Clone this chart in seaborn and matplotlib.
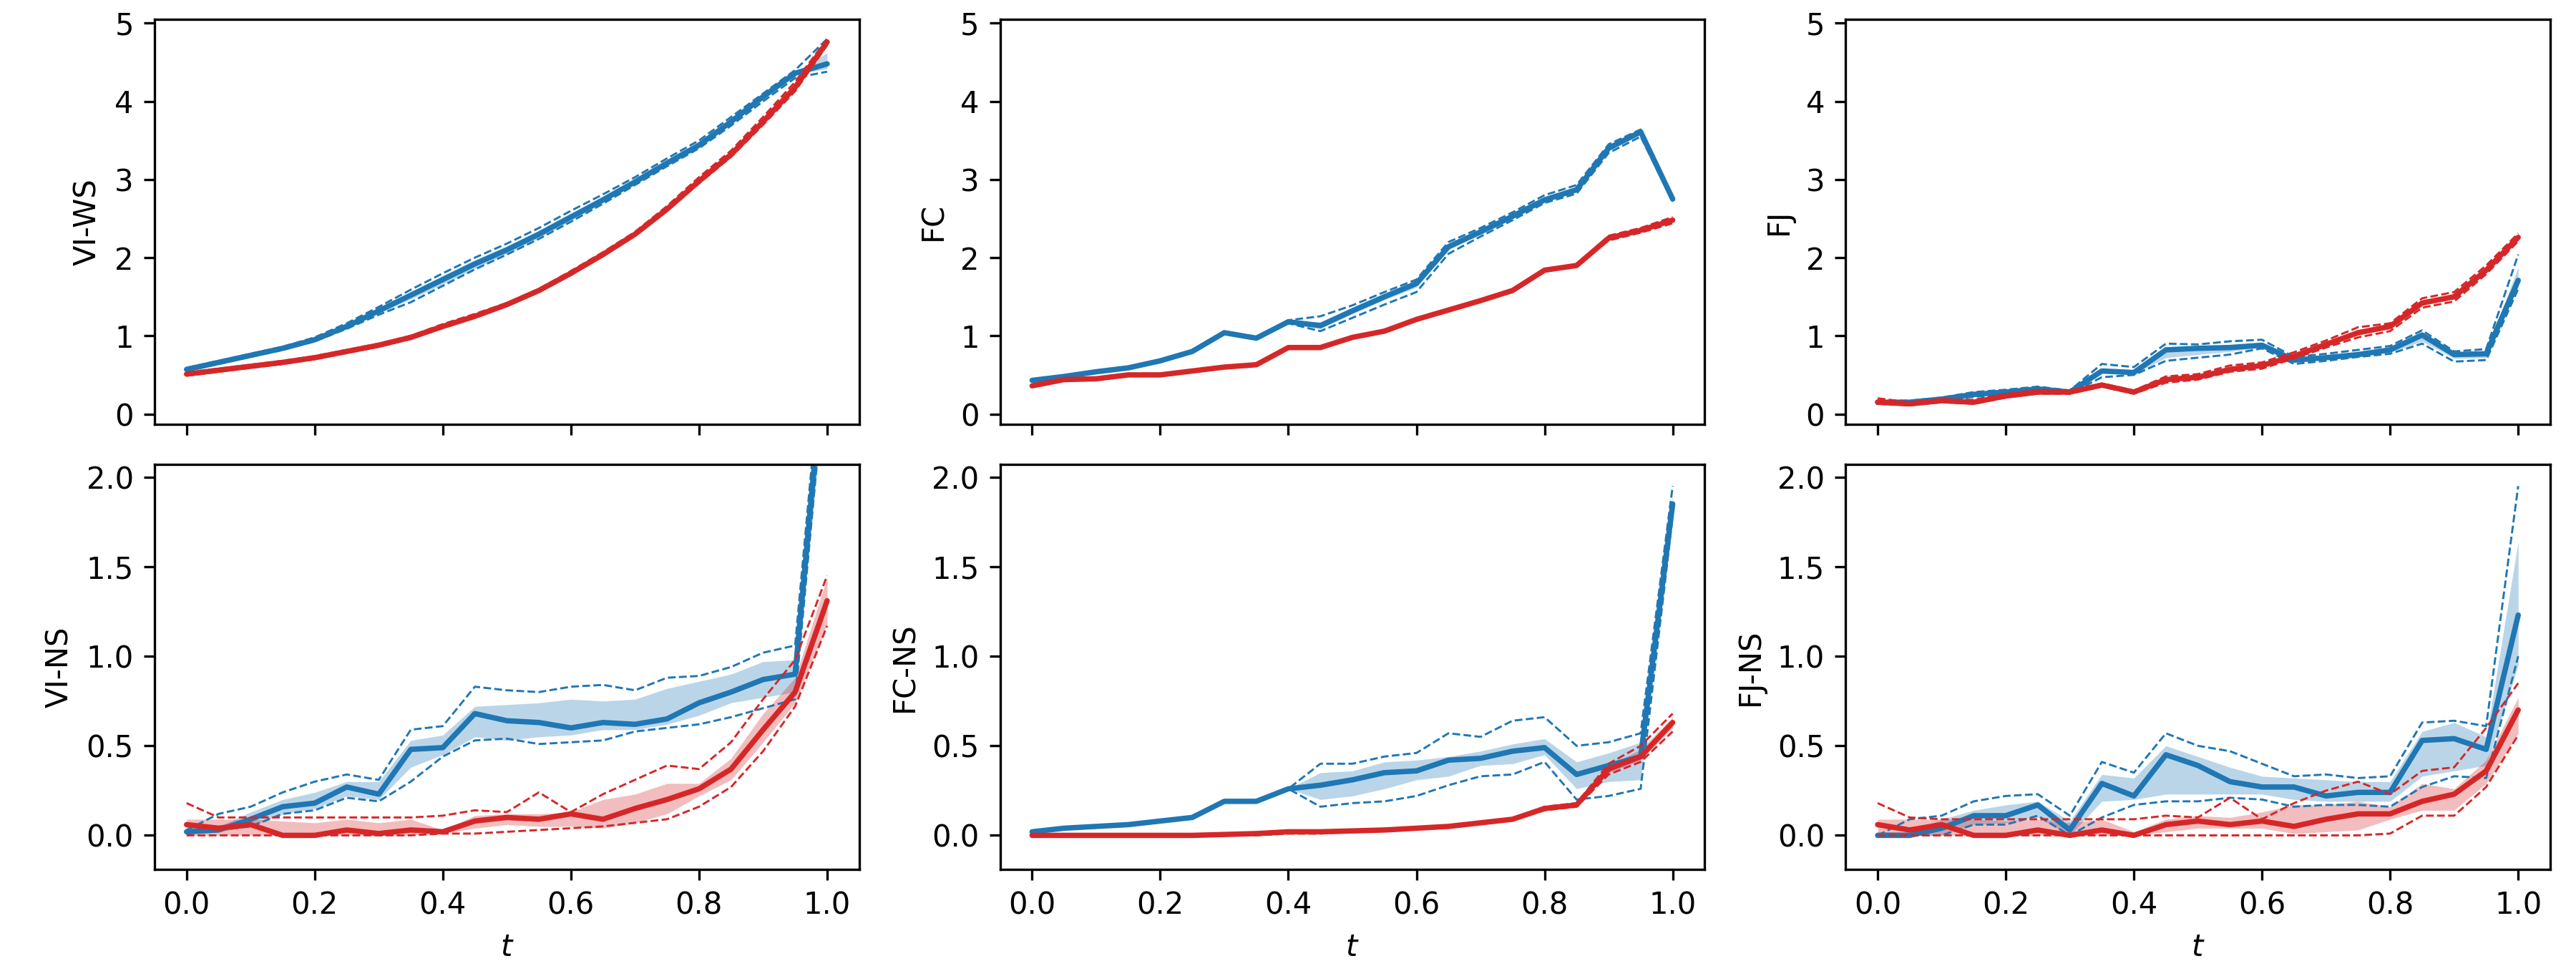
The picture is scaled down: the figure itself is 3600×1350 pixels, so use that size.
import numpy as np
import pandas as pd
import matplotlib
matplotlib.use("Agg")
import matplotlib.pyplot as plt
import seaborn as sns

# time grid
t = [0.0, 0.05, 0.1, 0.15, 0.2, 0.25, 0.3, 0.35, 0.4, 0.45, 0.5,
     0.55, 0.6, 0.65, 0.7, 0.75, 0.8, 0.85, 0.9, 0.95, 1.0]

# ---- VI-WS ----
viws_b_mean = [0.57, 0.66, 0.75, 0.84, 0.95, 1.12, 1.32, 1.52, 1.72, 1.92, 2.10, 2.30, 2.52, 2.74, 2.97, 3.21, 3.44, 3.74, 4.06, 4.36, 4.48]
viws_b_lo = [0.56, 0.65, 0.74, 0.83, 0.94, 1.10, 1.29, 1.47, 1.66, 1.86, 2.05, 2.25, 2.47, 2.70, 2.94, 3.18, 3.42, 3.72, 4.04, 4.34, 4.42]
viws_b_hi = [0.58, 0.67, 0.76, 0.85, 0.96, 1.14, 1.35, 1.56, 1.77, 1.97, 2.15, 2.35, 2.57, 2.78, 3.00, 3.24, 3.46, 3.76, 4.08, 4.38, 4.62]
viws_b_dlo = [0.55, 0.64, 0.73, 0.82, 0.93, 1.09, 1.27, 1.43, 1.64, 1.85, 2.04, 2.24, 2.46, 2.69, 2.93, 3.17, 3.40, 3.69, 4.00, 4.30, 4.38]
viws_b_dhi = [0.59, 0.68, 0.77, 0.86, 0.98, 1.16, 1.37, 1.59, 1.80, 2.00, 2.18, 2.38, 2.60, 2.81, 3.03, 3.27, 3.50, 3.80, 4.10, 4.40, 4.80]
viws_r_mean = [0.51, 0.56, 0.61, 0.66, 0.72, 0.80, 0.88, 0.98, 1.12, 1.25, 1.40, 1.58, 1.80, 2.04, 2.30, 2.62, 2.98, 3.32, 3.74, 4.18, 4.76]
viws_r_lo = [0.50, 0.55, 0.60, 0.65, 0.71, 0.79, 0.87, 0.97, 1.11, 1.24, 1.39, 1.57, 1.79, 2.03, 2.29, 2.61, 2.96, 3.30, 3.72, 4.15, 4.72]
viws_r_hi = [0.52, 0.57, 0.62, 0.67, 0.73, 0.81, 0.89, 0.99, 1.13, 1.26, 1.41, 1.59, 1.81, 2.05, 2.31, 2.63, 3.00, 3.34, 3.76, 4.21, 4.79]
viws_r_dlo = [0.49, 0.54, 0.59, 0.64, 0.70, 0.78, 0.86, 0.96, 1.10, 1.23, 1.38, 1.56, 1.78, 2.02, 2.28, 2.60, 2.95, 3.29, 3.70, 4.13, 4.72]
viws_r_dhi = [0.53, 0.58, 0.63, 0.68, 0.74, 0.82, 0.90, 1.00, 1.15, 1.28, 1.42, 1.60, 1.83, 2.07, 2.33, 2.66, 3.03, 3.37, 3.80, 4.25, 4.80]

# ---- FC ----
fc_b_mean = [0.43, 0.48, 0.54, 0.59, 0.68, 0.80, 1.04, 0.97, 1.18, 1.13, 1.32, 1.50, 1.67, 2.14, 2.33, 2.53, 2.74, 2.87, 3.40, 3.61, 2.75]
fc_b_lo = [0.43, 0.48, 0.54, 0.59, 0.68, 0.80, 1.04, 0.97, 1.17, 1.09, 1.28, 1.46, 1.62, 2.10, 2.30, 2.50, 2.71, 2.84, 3.37, 3.58, 2.73]
fc_b_hi = [0.43, 0.48, 0.54, 0.59, 0.68, 0.80, 1.04, 0.97, 1.19, 1.18, 1.36, 1.54, 1.70, 2.17, 2.36, 2.56, 2.77, 2.90, 3.43, 3.63, 2.77]
fc_b_dlo = [0.43, 0.48, 0.54, 0.59, 0.68, 0.80, 1.04, 0.97, 1.16, 1.06, 1.23, 1.40, 1.56, 2.05, 2.27, 2.48, 2.70, 2.82, 3.34, 3.55, 2.72]
fc_b_dhi = [0.43, 0.48, 0.54, 0.59, 0.68, 0.80, 1.04, 0.97, 1.20, 1.25, 1.39, 1.56, 1.72, 2.20, 2.38, 2.58, 2.80, 2.93, 3.45, 3.64, 2.78]
fc_r_mean = [0.36, 0.44, 0.45, 0.50, 0.50, 0.55, 0.60, 0.63, 0.85, 0.85, 0.98, 1.06, 1.21, 1.33, 1.45, 1.58, 1.84, 1.90, 2.25, 2.35, 2.48]
fc_r_lo = [0.36, 0.44, 0.45, 0.50, 0.50, 0.55, 0.60, 0.63, 0.85, 0.85, 0.98, 1.06, 1.21, 1.33, 1.45, 1.58, 1.84, 1.90, 2.23, 2.33, 2.45]
fc_r_hi = [0.36, 0.44, 0.45, 0.50, 0.50, 0.55, 0.60, 0.63, 0.85, 0.85, 0.98, 1.06, 1.21, 1.33, 1.45, 1.58, 1.84, 1.90, 2.27, 2.37, 2.51]
fc_r_dlo = [0.36, 0.44, 0.45, 0.50, 0.50, 0.55, 0.60, 0.63, 0.85, 0.85, 0.98, 1.06, 1.21, 1.33, 1.45, 1.58, 1.84, 1.90, 2.22, 2.32, 2.44]
fc_r_dhi = [0.36, 0.44, 0.45, 0.50, 0.50, 0.55, 0.60, 0.63, 0.85, 0.85, 0.98, 1.06, 1.21, 1.33, 1.45, 1.58, 1.84, 1.90, 2.28, 2.38, 2.52]

# ---- FJ ----
fj_b_mean = [0.15, 0.15, 0.19, 0.25, 0.28, 0.32, 0.28, 0.55, 0.53, 0.82, 0.84, 0.85, 0.88, 0.69, 0.72, 0.76, 0.82, 1.01, 0.76, 0.77, 1.71]
fj_b_lo = [0.14, 0.14, 0.18, 0.23, 0.26, 0.30, 0.27, 0.52, 0.51, 0.72, 0.76, 0.80, 0.85, 0.66, 0.70, 0.74, 0.79, 0.93, 0.71, 0.72, 1.62]
fj_b_hi = [0.16, 0.16, 0.20, 0.27, 0.30, 0.34, 0.29, 0.58, 0.56, 0.85, 0.86, 0.88, 0.91, 0.71, 0.74, 0.79, 0.85, 1.04, 0.78, 0.80, 1.88]
fj_b_dlo = [0.13, 0.13, 0.17, 0.22, 0.25, 0.29, 0.26, 0.47, 0.50, 0.68, 0.72, 0.76, 0.84, 0.64, 0.68, 0.73, 0.77, 0.90, 0.67, 0.69, 1.60]
fj_b_dhi = [0.17, 0.17, 0.21, 0.28, 0.31, 0.35, 0.30, 0.64, 0.60, 0.90, 0.89, 0.93, 0.95, 0.73, 0.77, 0.82, 0.87, 1.07, 0.80, 0.83, 2.04]
fj_r_mean = [0.15, 0.13, 0.17, 0.15, 0.23, 0.28, 0.28, 0.37, 0.28, 0.44, 0.47, 0.57, 0.62, 0.74, 0.89, 1.04, 1.12, 1.42, 1.50, 1.84, 2.26]
fj_r_lo = [0.14, 0.12, 0.16, 0.14, 0.22, 0.27, 0.27, 0.36, 0.27, 0.42, 0.45, 0.55, 0.60, 0.72, 0.87, 1.01, 1.09, 1.39, 1.47, 1.81, 2.23]
fj_r_hi = [0.17, 0.14, 0.18, 0.16, 0.24, 0.29, 0.29, 0.38, 0.29, 0.46, 0.49, 0.59, 0.64, 0.76, 0.91, 1.07, 1.15, 1.45, 1.53, 1.87, 2.29]
fj_r_dlo = [0.13, 0.11, 0.15, 0.13, 0.21, 0.26, 0.26, 0.35, 0.26, 0.40, 0.44, 0.54, 0.58, 0.71, 0.85, 0.98, 1.06, 1.36, 1.44, 1.79, 2.21]
fj_r_dhi = [0.20, 0.15, 0.19, 0.18, 0.26, 0.31, 0.30, 0.39, 0.30, 0.48, 0.51, 0.62, 0.66, 0.79, 0.94, 1.11, 1.16, 1.48, 1.56, 1.90, 2.31]

# ---- VI-NS ----
vins_b_mean = [0.02, 0.03, 0.09, 0.16, 0.18, 0.27, 0.23, 0.48, 0.49, 0.68, 0.64, 0.63, 0.60, 0.63, 0.62, 0.65, 0.74, 0.80, 0.87, 0.90, 2.85]
vins_b_lo = [0.01, 0.02, 0.05, 0.12, 0.15, 0.22, 0.20, 0.38, 0.45, 0.55, 0.53, 0.55, 0.56, 0.59, 0.59, 0.62, 0.67, 0.74, 0.77, 0.80, 2.60]
vins_b_hi = [0.04, 0.05, 0.13, 0.20, 0.24, 0.30, 0.30, 0.53, 0.56, 0.72, 0.73, 0.74, 0.76, 0.75, 0.76, 0.82, 0.86, 0.90, 0.97, 0.98, 3.10]
vins_b_dlo = [0.01, 0.03, 0.05, 0.12, 0.14, 0.21, 0.19, 0.30, 0.44, 0.53, 0.54, 0.51, 0.52, 0.53, 0.58, 0.60, 0.62, 0.66, 0.71, 0.76, 2.70]
vins_b_dhi = [0.03, 0.12, 0.16, 0.24, 0.30, 0.34, 0.31, 0.59, 0.61, 0.83, 0.81, 0.80, 0.83, 0.84, 0.81, 0.88, 0.89, 0.94, 1.02, 1.06, 3.00]
vins_r_mean = [0.06, 0.04, 0.06, 0.00, 0.00, 0.03, 0.01, 0.03, 0.02, 0.08, 0.10, 0.09, 0.12, 0.09, 0.15, 0.20, 0.26, 0.37, 0.59, 0.80, 1.31]
vins_r_lo = [0.00, 0.00, 0.00, 0.00, 0.00, 0.00, 0.00, 0.00, 0.01, 0.04, 0.06, 0.05, 0.05, 0.04, 0.07, 0.12, 0.22, 0.31, 0.52, 0.74, 1.18]
vins_r_hi = [0.09, 0.09, 0.09, 0.08, 0.07, 0.09, 0.07, 0.09, 0.03, 0.11, 0.12, 0.12, 0.13, 0.20, 0.23, 0.29, 0.29, 0.43, 0.68, 0.88, 1.44]
vins_r_dlo = [0.00, 0.00, 0.00, 0.00, 0.00, 0.00, 0.00, 0.00, 0.01, 0.01, 0.02, 0.03, 0.04, 0.05, 0.07, 0.09, 0.16, 0.27, 0.47, 0.72, 1.17]
vins_r_dhi = [0.18, 0.10, 0.10, 0.10, 0.10, 0.10, 0.10, 0.10, 0.11, 0.14, 0.13, 0.24, 0.13, 0.23, 0.31, 0.39, 0.37, 0.52, 0.76, 0.98, 1.45]

# ---- FC-NS ----
fcns_b_mean = [0.02, 0.04, 0.05, 0.06, 0.08, 0.10, 0.19, 0.19, 0.26, 0.28, 0.31, 0.35, 0.36, 0.42, 0.43, 0.47, 0.49, 0.34, 0.39, 0.44, 1.85]
fcns_b_lo = [0.02, 0.04, 0.05, 0.06, 0.08, 0.10, 0.19, 0.19, 0.26, 0.20, 0.22, 0.26, 0.31, 0.33, 0.39, 0.40, 0.45, 0.26, 0.30, 0.31, 1.80]
fcns_b_hi = [0.02, 0.04, 0.05, 0.06, 0.08, 0.10, 0.19, 0.19, 0.26, 0.35, 0.36, 0.41, 0.42, 0.44, 0.47, 0.51, 0.54, 0.41, 0.46, 0.52, 1.90]
fcns_b_dlo = [0.02, 0.04, 0.05, 0.06, 0.08, 0.10, 0.19, 0.19, 0.26, 0.16, 0.18, 0.19, 0.22, 0.28, 0.33, 0.34, 0.41, 0.20, 0.22, 0.26, 1.78]
fcns_b_dhi = [0.02, 0.04, 0.05, 0.06, 0.08, 0.10, 0.19, 0.19, 0.26, 0.40, 0.40, 0.44, 0.46, 0.57, 0.55, 0.64, 0.66, 0.50, 0.52, 0.57, 1.95]
fcns_r_mean = [0.00, 0.00, 0.00, 0.00, 0.00, 0.00, 0.005, 0.01, 0.02, 0.02, 0.025, 0.03, 0.04, 0.05, 0.07, 0.09, 0.15, 0.17, 0.37, 0.44, 0.63]
fcns_r_lo = [0.00, 0.00, 0.00, 0.00, 0.00, 0.00, 0.00, 0.00, 0.01, 0.01, 0.02, 0.025, 0.035, 0.045, 0.065, 0.085, 0.14, 0.16, 0.35, 0.42, 0.60]
fcns_r_hi = [0.005, 0.005, 0.005, 0.005, 0.005, 0.005, 0.01, 0.015, 0.025, 0.025, 0.03, 0.035, 0.045, 0.055, 0.075, 0.095, 0.16, 0.18, 0.39, 0.48, 0.66]
fcns_r_dlo = [0.00, 0.00, 0.00, 0.00, 0.00, 0.00, 0.00, 0.00, 0.01, 0.01, 0.02, 0.025, 0.035, 0.045, 0.065, 0.085, 0.14, 0.16, 0.34, 0.41, 0.58]
fcns_r_dhi = [0.005, 0.005, 0.005, 0.005, 0.005, 0.005, 0.01, 0.015, 0.025, 0.025, 0.03, 0.035, 0.045, 0.055, 0.075, 0.095, 0.16, 0.18, 0.40, 0.50, 0.68]

# ---- FJ-NS ----
fjns_b_mean = [0.00, 0.00, 0.04, 0.11, 0.11, 0.17, 0.03, 0.29, 0.22, 0.45, 0.39, 0.30, 0.27, 0.27, 0.22, 0.24, 0.24, 0.53, 0.54, 0.48, 1.23]
fjns_b_lo = [0.00, 0.00, 0.00, 0.06, 0.07, 0.10, 0.00, 0.19, 0.20, 0.23, 0.23, 0.23, 0.23, 0.20, 0.19, 0.19, 0.19, 0.33, 0.36, 0.39, 0.95]
fjns_b_hi = [0.02, 0.02, 0.09, 0.14, 0.17, 0.19, 0.08, 0.34, 0.32, 0.50, 0.44, 0.38, 0.33, 0.32, 0.31, 0.30, 0.30, 0.58, 0.63, 0.55, 1.64]
fjns_b_dlo = [0.00, 0.00, 0.00, 0.06, 0.06, 0.11, 0.00, 0.10, 0.17, 0.19, 0.19, 0.21, 0.20, 0.16, 0.17, 0.17, 0.16, 0.27, 0.33, 0.32, 1.00]
fjns_b_dhi = [0.00, 0.09, 0.11, 0.19, 0.22, 0.23, 0.11, 0.41, 0.35, 0.57, 0.50, 0.47, 0.40, 0.33, 0.34, 0.32, 0.33, 0.63, 0.64, 0.61, 1.95]
fjns_r_mean = [0.06, 0.03, 0.06, 0.00, 0.00, 0.03, 0.00, 0.03, 0.00, 0.06, 0.08, 0.06, 0.08, 0.05, 0.09, 0.12, 0.12, 0.19, 0.23, 0.36, 0.70]
fjns_r_lo = [0.00, 0.00, 0.00, 0.00, 0.00, 0.00, 0.00, 0.00, 0.00, 0.02, 0.04, 0.04, 0.04, 0.01, 0.02, 0.03, 0.09, 0.14, 0.14, 0.29, 0.57]
fjns_r_hi = [0.09, 0.09, 0.09, 0.09, 0.08, 0.09, 0.07, 0.09, 0.02, 0.09, 0.11, 0.10, 0.13, 0.17, 0.17, 0.19, 0.16, 0.29, 0.26, 0.42, 0.77]
fjns_r_dlo = [0.00, 0.00, 0.00, 0.00, 0.00, 0.00, 0.00, 0.00, 0.00, 0.00, 0.00, 0.00, 0.00, 0.00, 0.00, 0.00, 0.01, 0.11, 0.11, 0.27, 0.56]
fjns_r_dhi = [0.18, 0.10, 0.09, 0.09, 0.09, 0.09, 0.09, 0.09, 0.09, 0.11, 0.10, 0.21, 0.09, 0.18, 0.25, 0.30, 0.23, 0.36, 0.38, 0.60, 0.85]

labels = ["VI-WS", "FC", "FJ", "VI-NS", "FC-NS", "FJ-NS"]
panels = [
    (viws_b_mean, viws_b_lo, viws_b_hi, viws_b_dlo, viws_b_dhi,
     viws_r_mean, viws_r_lo, viws_r_hi, viws_r_dlo, viws_r_dhi),
    (fc_b_mean, fc_b_lo, fc_b_hi, fc_b_dlo, fc_b_dhi,
     fc_r_mean, fc_r_lo, fc_r_hi, fc_r_dlo, fc_r_dhi),
    (fj_b_mean, fj_b_lo, fj_b_hi, fj_b_dlo, fj_b_dhi,
     fj_r_mean, fj_r_lo, fj_r_hi, fj_r_dlo, fj_r_dhi),
    (vins_b_mean, vins_b_lo, vins_b_hi, vins_b_dlo, vins_b_dhi,
     vins_r_mean, vins_r_lo, vins_r_hi, vins_r_dlo, vins_r_dhi),
    (fcns_b_mean, fcns_b_lo, fcns_b_hi, fcns_b_dlo, fcns_b_dhi,
     fcns_r_mean, fcns_r_lo, fcns_r_hi, fcns_r_dlo, fcns_r_dhi),
    (fjns_b_mean, fjns_b_lo, fjns_b_hi, fjns_b_dlo, fjns_b_dhi,
     fjns_r_mean, fjns_r_lo, fjns_r_hi, fjns_r_dlo, fjns_r_dhi),
]

BLUE = "#1f77b4"
RED = "#d62728"

# plain matplotlib look: black text, thin black spines
sns.set_style("ticks", rc={
    "axes.edgecolor": "black", "axes.labelcolor": "black",
    "text.color": "black", "xtick.color": "black", "ytick.color": "black",
    "axes.linewidth": 0.8,
})
plt.rcParams["font.family"] = ["DejaVu Sans"]

fig, axes = plt.subplots(2, 3, figsize=(12, 4.5), dpi=300, sharex=True)
fig.subplots_adjust(left=0.06, right=0.99, top=0.98, bottom=0.1, wspace=0.2, hspace=0.1)


def draw_series(ax, mean, lo, hi, dlo, dhi, color):
    ax.fill_between(t, lo, hi, color=color, alpha=0.3, lw=0)
    sns.lineplot(x=t, y=dlo, ax=ax, color=color, lw=0.7, linestyle="--")
    sns.lineplot(x=t, y=dhi, ax=ax, color=color, lw=0.7, linestyle="--")
    sns.lineplot(x=t, y=mean, ax=ax, color=color, lw=1.8)


for i, ax in enumerate(axes.flat):
    p = panels[i]
    draw_series(ax, p[0], p[1], p[2], p[3], p[4], BLUE)
    draw_series(ax, p[5], p[6], p[7], p[8], p[9], RED)
    ax.set_ylabel(labels[i])
    ax.set_xlim(-0.05, 1.05)
    ax.set_xticks([0.0, 0.2, 0.4, 0.6, 0.8, 1.0])
    ax.tick_params(width=0.8, length=3.5)
    if i < 3:
        ax.set_ylim(-0.13, 5.05)
        ax.set_yticks([0, 1, 2, 3, 4, 5])
        ax.set_xlabel("")
    else:
        ax.set_ylim(-0.19, 2.07)
        ax.set_yticks([0.0, 0.5, 1.0, 1.5, 2.0])
        ax.set_xlabel("$t$")

fig.savefig("out.png", dpi=300)
